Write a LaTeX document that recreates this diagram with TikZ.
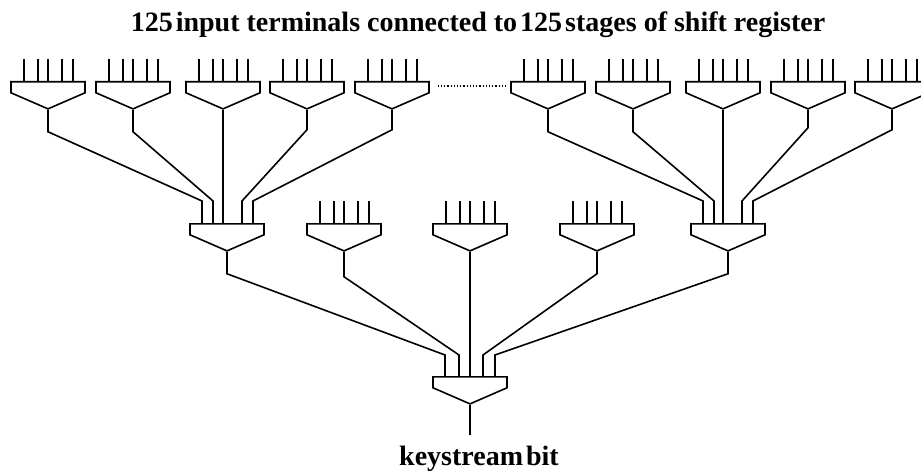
\documentclass[tikz,border=0pt]{standalone}
\usepackage{fontspec}
\setmainfont{Liberation Serif}
\usetikzlibrary{shapes.symbols,calc}

\tikzstyle{gate} = [signal, signal to=south, signal from=nowhere, signal pointer angle=133, draw=black, inner sep=0pt, minimum width=74pt, minimum height=11pt, line width=1.6pt, anchor=north]
\tikzstyle{wire} = [line width=1.6pt, line join=miter]
\tikzstyle{caption} = [font=\fontsize{28}{30}\selectfont\bfseries, inner sep=0pt]

\newcommand{\leads}[1]{
	\foreach \dx in {-24,-10,0,14,25} {
		\coordinate (#1top\dx) at ([xshift=\dx pt,yshift=22pt]#1.north);
		\draw [wire] ([xshift=\dx pt]#1.north) -- (#1top\dx);
	}
}

\begin{document}
\begin{tikzpicture}[x=1pt, y=-1pt]
		\useasboundingbox (0,0) rectangle (921,476);

		\node (title) [caption] at (478,25) {125\kern3pt input terminals connected to\kern3pt 125\kern3pt stages of shift register};
		\node (bit) [caption] at (479,459) {keystream\kern3pt bit};

		% top row
		\node (a1) [gate] at (48,81) {};
		\node (a2) [gate] at (133,81) {};
		\node (a3) [gate] at (223,81) {};
		\node (a4) [gate] at (307,81) {};
		\node (a5) [gate] at (392,81) {};
		\node (b1) [gate] at (548,81) {};
		\node (b2) [gate] at (633,81) {};
		\node (b3) [gate] at (723,81) {};
		\node (b4) [gate] at (808,81) {};
		\node (b5) [gate] at (892,81) {};

		% middle row
		\node (ga) [gate] at (227,223) {};
		\node (m1) [gate] at (344,223) {};
		\node (m2) [gate] at (470,223) {};
		\node (m3) [gate] at (597,223) {};
		\node (gb) [gate] at (728,223) {};

		% output gate
		\node (out) [gate] at (470,376) {};
		\coordinate (end) at (470,435);

		\foreach \g in {a1,a2,a3,a4,a5,b1,b2,b3,b4,b5,m1,m2,m3} { \leads{\g} }

		\draw [dotted, line width=1.2pt, shorten >=5pt, shorten <=8pt] ($(a5.north east)!0.8!(a5.east)$) -- ($(b1.north west)!0.8!(b1.west)$);

		\draw [wire] (a1.south) -- ++(0,22) -- ([xshift=-25pt,yshift=22pt]ga.north) -- ([xshift=-25pt]ga.north);
		\draw [wire] (a2.south) -- ++(0,22) -- ([xshift=-14pt,yshift=22pt]ga.north) -- ([xshift=-14pt]ga.north);
		\draw [wire] (a3.south) -- (a3.south |- ga.north);
		\draw [wire] (a4.south) -- ++(0,20) -- ([xshift=15pt,yshift=22pt]ga.north) -- ([xshift=15pt]ga.north);
		\draw [wire] (a5.south) -- ++(0,20) -- ([xshift=26pt,yshift=22pt]ga.north) -- ([xshift=26pt]ga.north);

		\draw [wire] (b1.south) -- ++(0,22) -- ([xshift=-25pt,yshift=22pt]gb.north) -- ([xshift=-25pt]gb.north);
		\draw [wire] (b2.south) -- ++(0,22) -- ([xshift=-14pt,yshift=22pt]gb.north) -- ([xshift=-14pt]gb.north);
		\draw [wire] (b3.south) -- (b3.south |- gb.north);
		\draw [wire] (b4.south) -- ++(0,18) -- ([xshift=14pt,yshift=22pt]gb.north) -- ([xshift=14pt]gb.north);
		\draw [wire] (b5.south) -- ++(0,20) -- ([xshift=25pt,yshift=22pt]gb.north) -- ([xshift=25pt]gb.north);

		\draw [wire] (ga.south) -- ++(0,22) -- ([xshift=-25pt,yshift=21pt]out.north) -- ([xshift=-25pt]out.north);
		\draw [wire] (m1.south) -- ++(0,25) -- ([xshift=-11pt,yshift=21pt]out.north) -- ([xshift=-11pt]out.north);
		\draw [wire] (m2.south) -- (out.north);
		\draw [wire] (m3.south) -- ++(0,22) -- ([xshift=13pt,yshift=21pt]out.north) -- ([xshift=13pt]out.north);
		\draw [wire] (gb.south) -- ++(0,22) -- ([xshift=25pt,yshift=21pt]out.north) -- ([xshift=25pt]out.north);

		\draw [wire] (out.south) -- (end);

	\end{tikzpicture}
\end{document}
